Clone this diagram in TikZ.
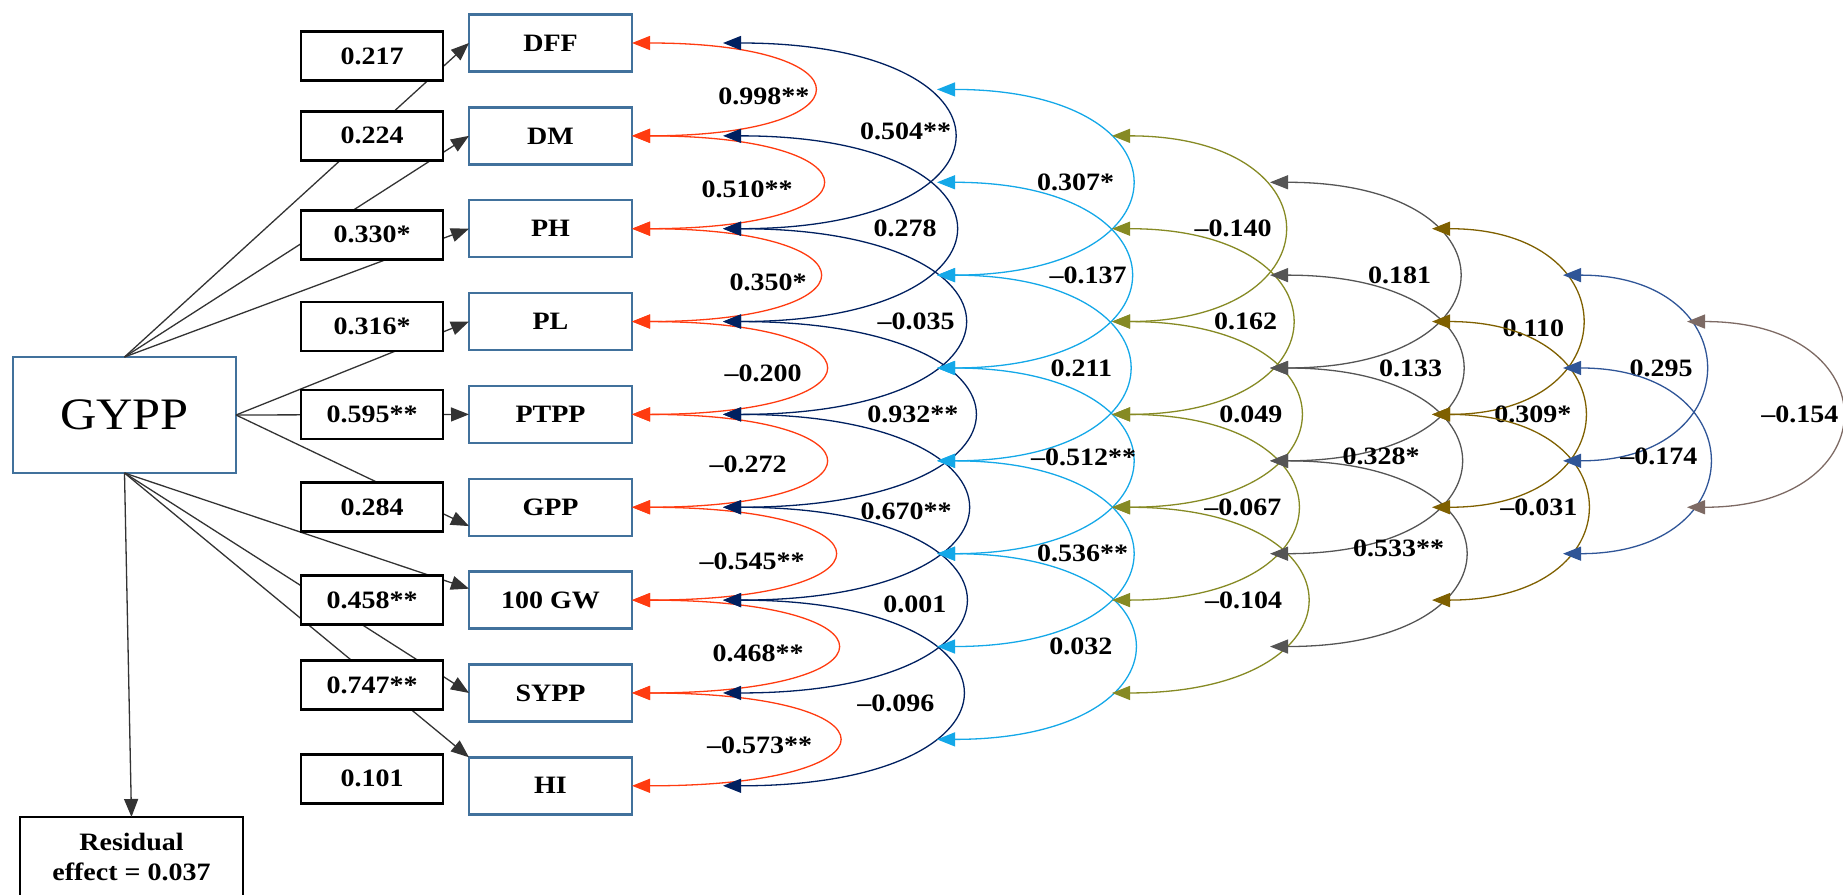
\documentclass[tikz,border=0pt]{standalone}
\usepackage{fontspec}
\setmainfont{Liberation Serif}[FakeStretch=1.12]
\usepackage{tikz}
\usetikzlibrary{arrows.meta,positioning}
\definecolor{boxblue}{HTML}{41719C}
\definecolor{arcred}{HTML}{FF3B10}
\definecolor{arcnavy}{HTML}{002060}
\definecolor{arccyan}{HTML}{14A8E8}
\definecolor{arcolive}{HTML}{868A24}
\definecolor{arcgray}{HTML}{555555}
\definecolor{arcgold}{HTML}{7F6000}
\definecolor{arcblue}{HTML}{2F5597}
\definecolor{arctaupe}{HTML}{7D6A64}
\newcommand{\lblfont}{\bfseries\fontsize{25}{30}\selectfont}
\tikzset{
  trait/.style={draw=boxblue,line width=2.5pt,fill=white,minimum width=163pt,
    minimum height=57pt,inner sep=0pt,outer sep=0pt,font=\lblfont},
  coef/.style={draw=black,line width=2.8pt,fill=white,minimum width=142pt,
    minimum height=49pt,inner sep=0pt,outer sep=0pt,font=\lblfont},
  direct/.style={-{Triangle[length=18pt,width=14pt]},line width=1.3pt,draw=black!80},
  corr/.style={{Triangle[length=18pt,width=14pt]}-{Triangle[length=18pt,width=14pt]},line width=1.3pt},
  redcorr/.style={corr,draw=arcred},
  navycorr/.style={corr,draw=arcnavy},
  cyancorr/.style={corr,draw=arccyan},
  olivecorr/.style={corr,draw=arcolive},
  graycorr/.style={corr,draw=arcgray},
  goldcorr/.style={corr,draw=arcgold},
  bluecorr/.style={corr,draw=arcblue},
  taupecorr/.style={corr,draw=arctaupe},
  lbl/.style={font=\lblfont,inner sep=0pt,text=black,midway}
}

\begin{document}
\begin{tikzpicture}[x=1pt,y=-1pt,node distance=35.85pt and 26pt]
\useasboundingbox (0,0) rectangle (1843,894);
\clip (0,0) rectangle (1843,894);

\node[trait] (dff) at (550.5,43) {DFF};
\node[trait, below=of dff] (dm) {DM};
\node[trait, below=of dm] (ph) {PH};
\node[trait, below=of ph] (pl) {PL};
\node[trait, below=of pl] (ptpp) {PTPP};
\node[trait, below=of ptpp] (gpp) {GPP};
\node[trait, below=of gpp] (gw) {100 GW};
\node[trait, below=of gw] (sypp) {SYPP};
\node[trait, below=of sypp] (hi) {HI};

\node[trait, minimum width=223pt, minimum height=116pt, font=\fontsize{45}{54}\selectfont] (gypp) at (124.5,415) {GYPP};
\node[coef, below=344pt of gypp, xshift=7pt, minimum width=223pt, minimum height=80pt, align=center] (res) {Residual\\effect = 0.037};

\draw[direct] (gypp.north) -- (dff.west);
\draw[direct] (gypp.north) -- (dm.west);
\draw[direct] (gypp.north) -- (ph.west);
\draw[direct] (gypp.east) -- (pl.west);
\draw[direct] (gypp.east) -- (ptpp.west);
\draw[direct] (gypp.east) -- (gpp.193);
\draw[direct] (gypp.south) -- (gw.172);
\draw[direct] (gypp.south) -- (sypp.west);
\draw[direct] (gypp.south) -- (hi.north west);
\draw[direct] (gypp.south) -- (res.north);

\node[coef, left=of dff, yshift=-13pt] (c1) {0.217};
\node[coef, left=of dm] (c2) {0.224};
\node[coef, left=of ph, yshift=-6pt] (c3) {0.330*};
\node[coef, left=of pl, yshift=-5pt] (c4) {0.316*};
\node[coef, left=of ptpp] (c5) {0.595**};
\node[coef, left=of gpp] (c6) {0.284};
\node[coef, left=of gw] (c7) {0.458**};
\node[coef, left=of sypp, yshift=8pt] (c8) {0.747**};
\node[coef, left=of hi, yshift=7pt] (c9) {0.101};

\foreach \col/\xx/\ra/\nn in {nv/723/1/9,cy/937/1.5/8,ol/1112/2/7,gy/1270/2.5/6,gd/1432/3/5,bl/1563/3.5/4,tp/1687/4/3}
  \foreach \i in {1,...,\nn}
    \coordinate (\col\i) at (\xx,{43+92.85*(\ra+\i-2)});

\draw[redcorr] (dff.east) .. controls +(240,0) and +(240,0) .. (dm.east) node[lbl,left=2pt,yshift=-7pt] {0.998**};
\draw[redcorr] (dm.east) .. controls +(251,0) and +(251,0) .. (ph.east) node[lbl,left=27pt,yshift=-7pt] {0.510**};
\draw[redcorr] (ph.east) .. controls +(247,0) and +(247,0) .. (pl.east) node[lbl,left=10pt,yshift=-7pt] {0.350*};
\draw[redcorr] (pl.east) .. controls +(255,0) and +(255,0) .. (ptpp.east) node[lbl,left=21pt,yshift=-5pt] {–0.200};
\draw[redcorr] (ptpp.east) .. controls +(255,0) and +(255,0) .. (gpp.east) node[lbl,left=36pt,yshift=-4pt] {–0.272};
\draw[redcorr] (gpp.east) .. controls +(267,0) and +(267,0) .. (gw.east) node[lbl,left=27pt,yshift=-8pt] {–0.545**};
\draw[redcorr] (gw.east) .. controls +(271,0) and +(271,0) .. (sypp.east) node[lbl,left=31pt,yshift=-7pt] {0.468**};
\draw[redcorr] (sypp.east) .. controls +(273,0) and +(273,0) .. (hi.east) node[lbl,left=24pt,yshift=-6pt] {–0.573**};

\draw[navycorr] (nv1) .. controls +(305,0) and +(305,0) .. (nv3) node[lbl,left=0pt,yshift=4pt] {0.504**};
\draw[navycorr] (nv2) .. controls +(307,0) and +(307,0) .. (nv4) node[lbl,left=16pt] {0.278};
\draw[navycorr] (nv3) .. controls +(319,0) and +(319,0) .. (nv5) node[lbl,left=7pt] {–0.035};
\draw[navycorr] (nv4) .. controls +(332,0) and +(332,0) .. (nv6) node[lbl,left=13pt] {0.932**};
\draw[navycorr] (nv5) .. controls +(323,0) and +(323,0) .. (nv7) node[lbl,left=13pt,yshift=-4pt] {0.670**};
\draw[navycorr] (nv6) .. controls +(320,0) and +(320,0) .. (nv8) node[lbl,left=16pt,yshift=-4pt] {0.001};
\draw[navycorr] (nv7) .. controls +(316,0) and +(316,0) .. (nv9) node[lbl,left=25pt,yshift=-10pt] {–0.096};

\draw[cyancorr] (cy1) .. controls +(257,0) and +(257,0) .. (cy3) node[lbl,left=15pt] {0.307*};
\draw[cyancorr] (cy2) .. controls +(255,0) and +(255,0) .. (cy4) node[lbl,left=1pt] {–0.137};
\draw[cyancorr] (cy3) .. controls +(253,0) and +(253,0) .. (cy5) node[lbl,left=14pt] {0.211};
\draw[cyancorr] (cy4) .. controls +(257,0) and +(257,0) .. (cy6) node[lbl,left=-7pt,yshift=3pt] {–0.512**};
\draw[cyancorr] (cy5) .. controls +(257,0) and +(257,0) .. (cy7) node[lbl,left=1pt] {0.536**};
\draw[cyancorr] (cy6) .. controls +(260,0) and +(260,0) .. (cy8) node[lbl,left=19pt] {0.032};

\draw[olivecorr] (ol1) .. controls +(227,0) and +(227,0) .. (ol3) node[lbl,left=10pt] {–0.140};
\draw[olivecorr] (ol2) .. controls +(237,0) and +(237,0) .. (ol4) node[lbl,left=12pt] {0.162};
\draw[olivecorr] (ol3) .. controls +(248,0) and +(248,0) .. (ol5) node[lbl,left=15pt] {0.049};
\draw[olivecorr] (ol4) .. controls +(244,0) and +(244,0) .. (ol6) node[lbl,left=13pt] {–0.067};
\draw[olivecorr] (ol5) .. controls +(257,0) and +(257,0) .. (ol7) node[lbl,left=22pt] {–0.104};

\draw[graycorr] (gy1) .. controls +(249,0) and +(249,0) .. (gy3) node[lbl,left=25pt] {0.181};
\draw[graycorr] (gy2) .. controls +(253,0) and +(253,0) .. (gy4) node[lbl,left=17pt] {0.133};
\draw[graycorr] (gy3) .. controls +(251,0) and +(251,0) .. (gy5) node[lbl,left=38pt,yshift=4pt] {0.328*};
\draw[graycorr] (gy4) .. controls +(257,0) and +(257,0) .. (gy6) node[lbl,left=18pt,yshift=5pt] {0.533**};

\draw[goldcorr] (gd1) .. controls +(197,0) and +(197,0) .. (gd3) node[lbl,left=15pt,yshift=-7pt] {0.110};
\draw[goldcorr] (gd2) .. controls +(200,0) and +(200,0) .. (gd4) node[lbl,left=10pt] {0.309*};
\draw[goldcorr] (gd3) .. controls +(204,0) and +(204,0) .. (gd5) node[lbl,left=7pt] {–0.031};

\draw[bluecorr] (bl1) .. controls +(187,0) and +(187,0) .. (bl3) node[lbl,left=10pt] {0.295};
\draw[bluecorr] (bl2) .. controls +(192,0) and +(192,0) .. (bl4) node[lbl,left=9pt,yshift=4pt] {–0.174};

\draw[taupecorr] (tp1) .. controls +(204,0) and +(204,0) .. (tp3) node[lbl,left=1pt] {–0.154};
\end{tikzpicture}
\end{document}
